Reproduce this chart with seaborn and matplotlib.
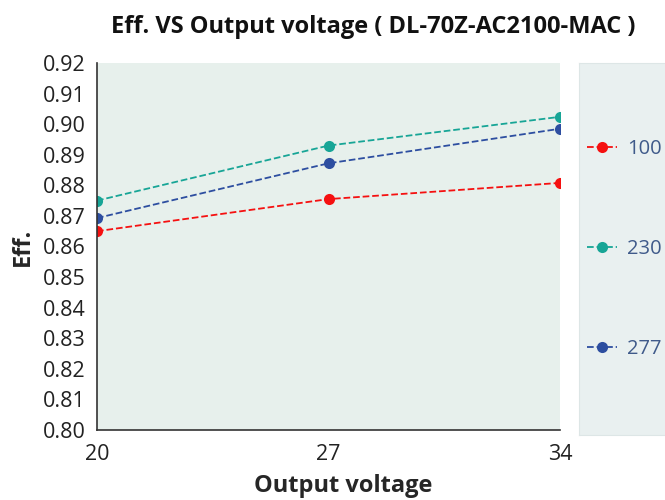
import pandas as pd
import matplotlib.pyplot as plt
import seaborn as sns

# Chart values
output_voltage = [20, 27, 34]
input_voltages = ["100", "230", "277"]
eff_100 = [0.8650, 0.8755, 0.8808]
eff_230 = [0.8750, 0.8930, 0.9024]
eff_277 = [0.8693, 0.8872, 0.8985]
y_ticks = [0.80, 0.81, 0.82, 0.83, 0.84, 0.85, 0.86, 0.87, 0.88, 0.89, 0.90, 0.91, 0.92]
x_ticks = [20, 27, 34]

df = pd.DataFrame({
    "Output voltage": output_voltage * 3,
    "Eff.": eff_100 + eff_230 + eff_277,
    "Vin": [v for v in input_voltages for _ in output_voltage],
})

sns.set_style("white")
plt.rcParams["font.family"] = ["Open Sans", "DejaVu Sans"]

palette = {"100": "#f51010", "230": "#17a596", "277": "#2d4ea0"}
bg = "#e7f0ec"

fig = plt.figure(figsize=(6.65, 5), dpi=100)
ax = fig.add_axes([97 / 665, 1 - 430 / 500, (560 - 97) / 665, (430 - 63) / 500])
ax.set_facecolor(bg)

sns.lineplot(
    data=df, x="Output voltage", y="Eff.", hue="Vin", palette=palette,
    marker="o", markersize=8, markeredgewidth=0, linestyle="--", linewidth=1.3,
    ax=ax, legend=False,
)

ax.set_xlim(20, 34)
ax.set_ylim(0.80, 0.92)
ax.set_xticks(x_ticks)
ax.set_yticks(y_ticks)
ax.set_yticklabels([f"{t:.2f}" for t in y_ticks])
ax.tick_params(axis="both", direction="in", length=6, width=1, color="#333333",
               labelsize=15.5, labelcolor="#222222")
ax.tick_params(axis="x", pad=10)
ax.tick_params(axis="y", pad=8)
for side in ["top", "right"]:
    ax.spines[side].set_visible(False)
for side in ["left", "bottom"]:
    ax.spines[side].set_color("#333333")
    ax.spines[side].set_linewidth(1.2)
ax.set_xlabel("Output voltage", fontsize=17, fontweight="bold")
ax.xaxis.set_label_coords(0.532, -0.12)
ax.set_ylabel("Eff.", fontsize=17, fontweight="bold", labelpad=6)

fig.text(0.561, 0.946, "Eff. VS Output voltage ( DL-70Z-AC2100-MAC )",
         ha="center", va="center", fontsize=17, fontweight="bold", color="#111111")

# legend panel on the right
lax = fig.add_axes([579 / 665, 1 - 435 / 500, 0.2, (435 - 63) / 500])
lax.set_facecolor("#e9f0f0")
lax.set_xticks([])
lax.set_yticks([])
for s in lax.spines.values():
    s.set_color("#dde6e6")

handles = [
    plt.Line2D([], [], color=palette[v], linestyle="--", linewidth=1.3,
               marker="o", markersize=8, markeredgewidth=0)
    for v in input_voltages
]
lax.legend(handles, input_voltages, loc="center left", bbox_to_anchor=(-0.03, 0.50),
           frameon=False, fontsize=14.5, labelcolor="#3f5a8a", borderaxespad=0.2,
           handlelength=1.5, handletextpad=0.5, labelspacing=3.95)

plt.savefig("out.png")
plt.close()
